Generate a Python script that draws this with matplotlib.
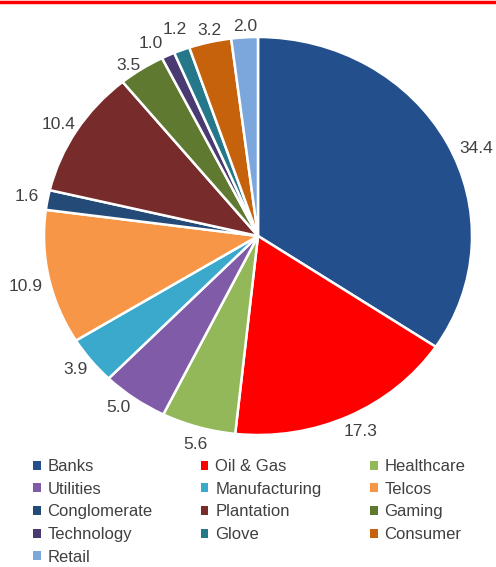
import matplotlib
matplotlib.use("Agg")
import matplotlib.pyplot as plt
from matplotlib.lines import Line2D
import numpy as np

plt.rcParams['font.family'] = ['Liberation Sans', 'DejaVu Sans']

sectors = ["Banks", "Oil & Gas", "Healthcare", "Utilities", "Manufacturing", "Telcos",
           "Conglomerate", "Plantation", "Gaming", "Technology", "Glove", "Consumer", "Retail"]
weights = [34.4, 17.3, 5.6, 5.0, 3.9, 10.9, 1.6, 10.4, 3.5, 1.0, 1.2, 3.2, 2.0]
colors = ["#234F8D", "#FF0000", "#93B85A", "#7F5BA8", "#3AA9CC", "#F79646",
          "#244A78", "#772B2B", "#5F7A30", "#4A3A72", "#24788A", "#C5620B", "#7BA7DD"]

# label placement style (radius relative to pie, angular nudge in degrees)
label_radius = [1.11, 1.096, 1.086, 1.08, 1.088, 1.113, 1.097, 1.085, 1.052, 1.091, 1.11, 1.055, 1.057]
label_nudge = [-4.7, 1.0, 0.5, -2.0, -0.5, 1.0, 0.0, 1.0, 2.3, 2.5, -0.4, -0.5, -0.3]

W, H = 496, 567
fig = plt.figure(figsize=(W / 100, H / 100), dpi=100)

# pie geometry (pixels): centre (258, 236), rx 214, ry 199
cx, cy, rx, ry = 258, 236, 214, 199
lim = 1.15
ax = fig.add_axes([(cx - lim * rx) / W, 1 - (cy + lim * ry) / H, 2 * lim * rx / W, 2 * lim * ry / H])

wedges, texts, autotexts = ax.pie(
    weights, colors=colors, startangle=90, counterclock=False,
    autopct=lambda p: f"{p:.1f}", pctdistance=1.095,
    wedgeprops=dict(edgecolor="white", linewidth=1.8),
    textprops=dict(fontsize=12.5, color="#404040"))
ax.set_aspect('auto')
ax.set_xlim(-lim, lim)
ax.set_ylim(-lim, lim)

for w, t, r, d in zip(wedges, autotexts, label_radius, label_nudge):
    ang = np.deg2rad((w.theta1 + w.theta2) / 2 + d)
    t.set_position((r * np.cos(ang), r * np.sin(ang)))
    t.set_ha("center")
    t.set_va("center")

order = [0, 3, 6, 9, 12, 1, 4, 7, 10, 2, 5, 8, 11]
leg = fig.legend([wedges[i] for i in order], [sectors[i] for i in order],
                 ncol=3, loc="upper left", bbox_to_anchor=(33 / W, 1 - 459 / H),
                 frameon=False, fontsize=12, handlelength=0.45, handleheight=0.45,
                 handletextpad=0.42, columnspacing=2.9, labelspacing=0.46,
                 borderpad=0, borderaxespad=0)
for t in leg.get_texts():
    t.set_color("#404040")
for h in leg.legend_handles:
    h.set_edgecolor("none")

fig.add_artist(Line2D([0, 1], [1 - 1.5 / H, 1 - 1.5 / H], color="#FF0000", linewidth=2.5,
                      transform=fig.transFigure))

fig.savefig("out.png", dpi=100, facecolor="white")
